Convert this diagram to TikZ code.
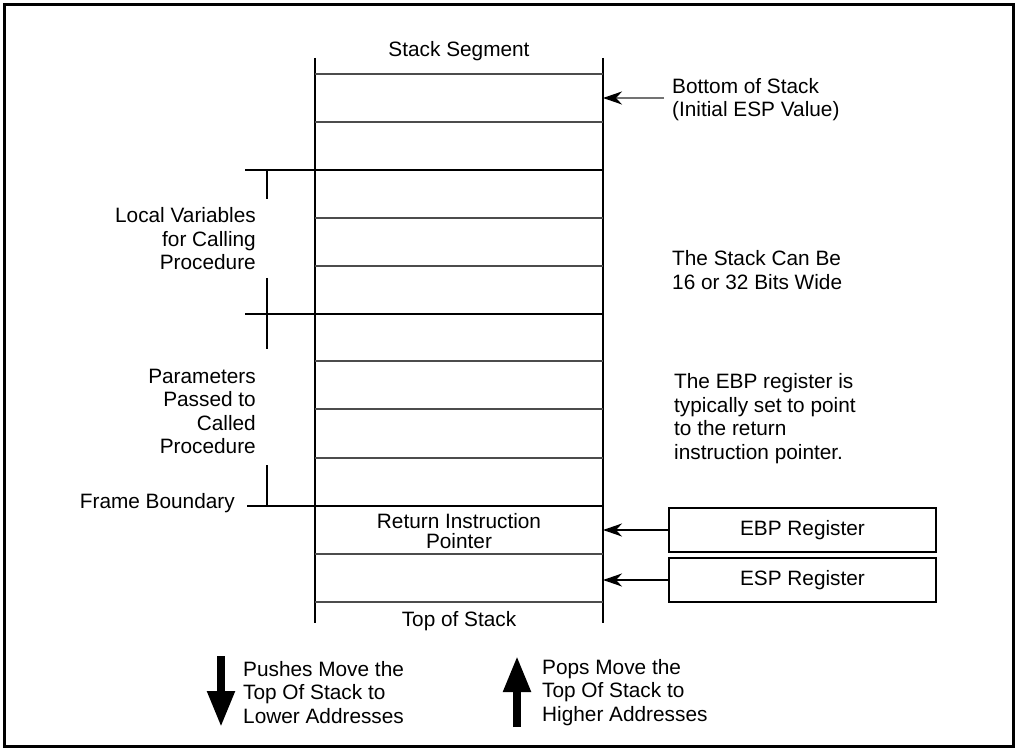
\documentclass[tikz,border=0pt]{standalone}
\usepackage{fontspec}
\setmainfont{Liberation Sans}
\usetikzlibrary{arrows.meta}
\begin{document}
\begin{tikzpicture}[x=1pt,y=-1pt,
  txt/.style={font=\fontsize{20.8}{23.5}\selectfont, inner sep=0pt},
  heavy/.style={line width=2.4pt},
  light/.style={line width=1.2pt, draw=black!70},
  regbox/.style={draw, line width=2.4pt, minimum width=267pt, minimum height=44pt, inner sep=0pt, font=\fontsize{20.8}{23.5}\selectfont},
  ptr/.style={line width=2pt, -{Stealth[length=19pt,width=13pt,inset=6pt]}},
  grayptr/.style={line width=2pt, draw=black!55, -{Stealth[length=19pt,width=13pt,inset=6pt,color=black]}},
  bigarrow/.style={line width=8pt, -{Triangle[length=36pt,width=26pt]}}
]
\useasboundingbox (0,0) rectangle (1018,751);
\draw[line width=3pt] (4.5,4.5) rectangle (1013.5,746.5);

% stack columns
\coordinate (sLtop) at (315,58);
\coordinate (sLbot) at (315,623);
\coordinate (sRtop) at (603,58);
\coordinate (sRbot) at (603,623);
\draw[heavy] (sLtop) -- (sLbot);
\draw[heavy] (sRtop) -- (sRbot);

% thin slot lines
\foreach \y in {74,122,218,266,361,409,458,554,602}
  \draw[light] (315,\y) -- (603,\y);

% heavy frame lines
\coordinate (lv) at (245,170);
\coordinate (pp) at (245,314);
\coordinate (fb) at (247,506);
\draw[heavy] (lv) -- (lv -| sRtop);
\draw[heavy] (pp) -- (pp -| sRtop);
\draw[heavy] (fb) -- (fb -| sRtop);

% brackets
\draw[heavy] (267,170) -- (267,199);
\draw[heavy] (267,278) -- (267,349);
\draw[heavy] (267,465) -- (267,506);

% texts inside/around stack
\node[txt] (seg) at (459,51) {Stack Segment};
\node[txt, align=center, font=\fontsize{20.8}{19.5}\selectfont] (rip) at (459,531) {Return Instruction\\Pointer};
\node[txt] (tos) at (459,621) {Top of Stack};

\node[txt, align=right, anchor=east] (locv) at (256,239) {Local Variables\\for Calling\\Procedure};
\node[txt, align=right, anchor=east] (parm) at (256,411.5) {Parameters\\Passed to\\Called\\Procedure};
\node[txt, anchor=east] (fbt) at (235,503) {Frame Boundary};

\node[txt, align=left, anchor=west] (bos) at (672,99.5) {Bottom of Stack\\(Initial ESP Value)};
\node[txt, align=left, anchor=west] (wide) at (672,270) {The Stack Can Be\\16 or 32 Bits Wide};
\node[txt, align=left, anchor=west] (ebpt) at (674,418.5) {The EBP register is\\typically set to point\\to the return\\instruction pointer.};

% bottom-of-stack pointer
\coordinate (bosa) at (664,98);
\draw[grayptr] (bosa) -- (bosa -| sRtop);

% registers
\node[regbox] (ebp) at (802.5,530) {EBP Register};
\node[regbox] (esp) at (802.5,580) {ESP Register};
\draw[ptr] (ebp.west) -- (ebp.west -| sRtop);
\draw[ptr] (esp.west) -- (esp.west -| sRtop);

% push / pop arrows
\coordinate (pushA) at (221,656);
\coordinate (pushB) at (221,727);
\coordinate (popA) at (517,727);
\coordinate (popB) at (517,656);
\draw[bigarrow] (pushA) -- (pushB);
\draw[bigarrow] (popA) -- (popB);
\node[txt, align=left, anchor=west] (push) at (243,692.5) {Pushes Move the\\Top Of Stack to\\Lower Addresses};
\node[txt, align=left, anchor=west] (pop) at (542,692.5) {Pops Move the\\Top Of Stack to\\Higher Addresses};
\end{tikzpicture}
\end{document}
